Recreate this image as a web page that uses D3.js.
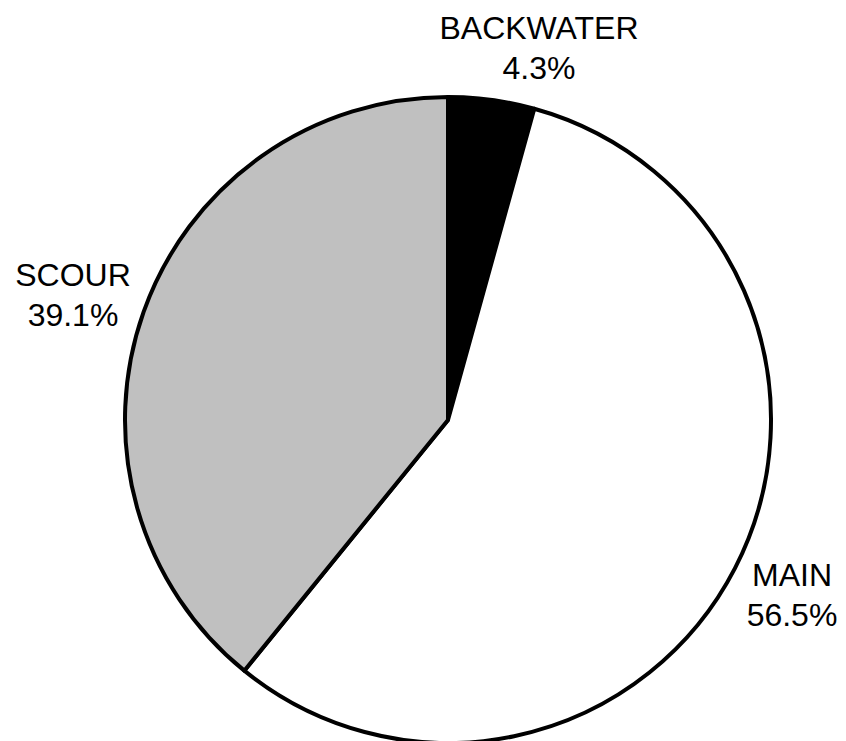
<!DOCTYPE html>
<html>
<head>
<meta charset="utf-8">
<script src="https://cdn.jsdelivr.net/npm/d3@7"></script>
<style>
  html, body { margin: 0; padding: 0; background: #fff; }
  svg { display: block; }
</style>
</head>
<body>
<svg id="chart" width="846" height="741"></svg>
<script>
// Share of habitat type, in percent
const categories = ["BACKWATER", "MAIN", "SCOUR"];
const values = [4.3, 56.5, 39.1];
const valueLabels = ["4.3%", "56.5%", "39.1%"];
const fills = ["#000000", "#ffffff", "#c0c0c0"];

// Label anchor points (centre of the two-line label block)
const labelAnchors = [[539, 48], [792, 595], [73, 295]];

const svg = d3.select("#chart");
const cx = 448, cy = 420, radius = 323;

const pie = d3.pie().sort(null).value(d => d.value);
const arc = d3.arc().innerRadius(0).outerRadius(radius);

const data = categories.map((c, i) => ({ name: c, value: values[i], label: valueLabels[i], fill: fills[i], anchor: labelAnchors[i] }));
const arcs = pie(data);

const g = svg.append("g").attr("transform", `translate(${cx},${cy})`);

g.selectAll("path.slice")
  .data(arcs)
  .join("path")
  .attr("class", "slice")
  .attr("d", arc)
  .attr("fill", d => d.data.fill)
  .attr("stroke", "#000")
  .attr("stroke-width", 4)
  .attr("stroke-linejoin", "round");

const labels = svg.selectAll("text.lbl")
  .data(arcs)
  .join("text")
  .attr("class", "lbl")
  .attr("text-anchor", "middle")
  .attr("font-family", "Liberation Sans, Arial, sans-serif")
  .attr("font-size", 32)
  .attr("fill", "#000");

labels.append("tspan")
  .attr("x", d => d.data.anchor[0])
  .attr("y", d => d.data.anchor[1] - 20)
  .attr("dy", "0.35em")
  .text(d => d.data.name);

labels.append("tspan")
  .attr("x", d => d.data.anchor[0])
  .attr("y", d => d.data.anchor[1] + 20)
  .attr("dy", "0.35em")
  .text(d => d.data.label);
</script>
</body>
</html>
